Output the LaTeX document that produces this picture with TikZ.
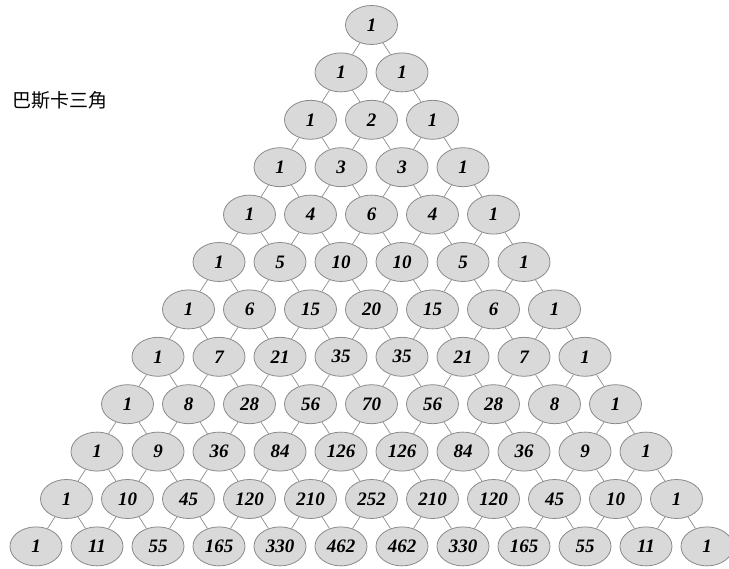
\documentclass[tikz,border=0pt]{standalone}
\usepackage{fontspec}
\setmainfont{Liberation Serif}
\newfontfamily\cjk{Noto Sans CJK TC}
\usetikzlibrary{shapes.geometric}
\definecolor{cellfill}{HTML}{D9D9D9}
\definecolor{celldraw}{HTML}{8A8A8A}
\definecolor{linkcol}{HTML}{8C8C8C}
\begin{document}
\begin{tikzpicture}[x=1pt,y=-1pt,
  cell/.style={ellipse, draw=celldraw, fill=cellfill, line width=0.8pt,
    minimum width=52pt, minimum height=39pt, inner sep=0pt,
    font=\fontsize{19}{19}\selectfont\bfseries\itshape},
  link/.style={draw=linkcol, line width=0.7pt}]
\useasboundingbox (0,0) rectangle (729,569);
\node[anchor=west, font=\cjk\fontsize{19}{19}\selectfont] (title) at (9,100) {巴斯卡三角};
\foreach \row [count=\rr from 0] in {{1},{1,1},{1,2,1},{1,3,3,1},{1,4,6,4,1},{1,5,10,10,5,1},{1,6,15,20,15,6,1},{1,7,21,35,35,21,7,1},{1,8,28,56,70,56,28,8,1},{1,9,36,84,126,126,84,36,9,1},{1,10,45,120,210,252,210,120,45,10,1},{1,11,55,165,330,462,462,330,165,55,11,1}}{
  \foreach \v [count=\kk from 0] in \row {
    \node[cell] (n-\rr-\kk) at ({371.5 + (\kk - \rr/2)*61}, {25 + \rr*47.4}) {\v};
  }
}
\foreach \rr in {0,...,10}{
  \pgfmathtruncatemacro\rn{\rr+1}
  \foreach \kk in {0,...,\rr}{
    \pgfmathtruncatemacro\kn{\kk+1}
    \draw[link] (n-\rr-\kk) -- (n-\rn-\kk);
    \draw[link] (n-\rr-\kk) -- (n-\rn-\kn);
  }
}
\end{tikzpicture}
\end{document}
